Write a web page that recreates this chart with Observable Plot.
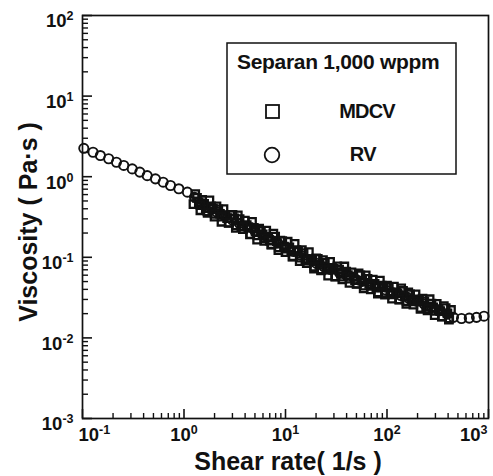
<!DOCTYPE html>
<html><head><meta charset="utf-8">
<script src="https://cdn.jsdelivr.net/npm/d3@7"></script>
<script src="https://cdn.jsdelivr.net/npm/@observablehq/plot@0.6"></script>
<style>body{margin:0;background:#fff} svg{display:block}</style>
</head><body><div id="chart"></div>
<script>
// RV (rotational viscometer), circles
const rvShear = [0.103, 0.127, 0.150, 0.181, 0.216, 0.255, 0.309, 0.367, 0.434, 0.523, 0.623, 0.736, 0.889, 1.08, 1.27,
  1.5, 1.8, 2.1, 2.5, 3, 3.5, 4.2, 5, 6, 7, 8.4, 10, 12, 14, 17, 20, 24, 28, 34, 40, 48, 57, 68, 81, 97, 115, 137, 164, 195, 232, 277, 330, 393,
  452, 542, 646, 762, 903];
const rvVisc = [2.25, 2.01, 1.83, 1.67, 1.51, 1.38, 1.25, 1.14, 1.03, 0.94, 0.855, 0.778, 0.708, 0.643, 0.557,
  0.450, 0.401, 0.364, 0.326, 0.290, 0.264, 0.235, 0.210, 0.187, 0.169, 0.150, 0.133, 0.118, 0.107, 0.094, 0.0845, 0.0760, 0.0706, 0.0644, 0.0596, 0.0546, 0.0503, 0.0462, 0.0428, 0.0394, 0.0364, 0.0336, 0.0310, 0.0286, 0.0263, 0.0239, 0.0217, 0.0197,
  0.0180, 0.0174, 0.0176, 0.0180, 0.0186];

// MDCV, squares (five runs)
const mdcvShearA = [1.29,1.51,1.78,2.09,2.45,2.88,3.39,3.98,4.68,5.50,6.46,7.59,8.91,10.5,12.3,14.5,17.0,20.0,23.4,27.5,32.4,38.0,44.7,52.5,61.7,72.4,85.1,100,117,138,162,191,224,263,309,363,427];
const mdcvViscA = [0.610,0.514,0.509,0.429,0.396,0.334,0.331,0.286,0.276,0.227,0.214,0.197,0.161,0.156,0.147,0.123,0.116,0.0973,0.0925,0.0877,0.0774,0.0769,0.0649,0.0630,0.0596,0.0528,0.0514,0.0446,0.0434,0.0413,0.0366,0.0348,0.0308,0.0302,0.0264,0.0248,0.0222];
const mdcvShearB = [1.40,1.64,1.93,2.26,2.66,3.13,3.67,4.32,5.07,5.96,7.00,8.22,9.66,11.4,13.3,15.7,18.4,21.6,25.4,29.9,35.1,41.2,48.4,56.9,66.8,78.5,92.3,108,127,150,176,207,243,285,335,394];
const mdcvViscB = [0.482,0.406,0.403,0.347,0.306,0.303,0.244,0.237,0.208,0.192,0.161,0.159,0.136,0.120,0.118,0.0948,0.0914,0.0807,0.0708,0.0718,0.0621,0.0601,0.0520,0.0515,0.0467,0.0424,0.0422,0.0357,0.0356,0.0324,0.0294,0.0292,0.0245,0.0240,0.0215,0.0202];
const mdcvShearC = [1.45,1.70,2.00,2.34,2.75,3.24,3.80,4.47,5.25,6.17,7.24,8.51,10.0,11.7,13.8,16.2,19.1,22.4,26.3,30.9,36.3,42.7,50.1,58.9,69.2,81.3,95.5,112,132,155,182,214,251,295,347,407];
const mdcvViscC = [0.383,0.371,0.320,0.276,0.267,0.231,0.223,0.192,0.166,0.160,0.144,0.123,0.116,0.102,0.0897,0.0845,0.0726,0.0689,0.0593,0.0574,0.0532,0.0481,0.0467,0.0412,0.0400,0.0355,0.0345,0.0306,0.0299,0.0265,0.0258,0.0229,0.0219,0.0191,0.0184,0.0169];
const mdcvShearD = [1.343,1.578,1.854,2.178,2.559,3.006,3.532,4.150,4.875,5.728,6.730,7.907,9.290,10.91,12.82,15.07,17.70,20.80,24.43,28.71,33.73,39.63,46.56,54.70,64.27,75.51,88.72,104.2,122.5,143.9,169.0,198.6,233.3,274.2,322.1,378.4];
const mdcvViscD = [0.548,0.461,0.427,0.394,0.333,0.337,0.297,0.251,0.232,0.213,0.179,0.181,0.159,0.133,0.123,0.113,0.0948,0.0957,0.0855,0.0740,0.0702,0.0664,0.0574,0.0596,0.0540,0.0467,0.0445,0.0423,0.0366,0.0382,0.0347,0.0301,0.0284,0.0266,0.0228,0.0234];
const mdcvShearE = [1.239,1.455,1.710,2.009,2.360,2.773,3.258,3.828,4.498,5.284,6.209,7.295,8.570,10.07,11.83,13.90,16.33,19.19,22.54,26.49,31.12,36.56,42.95,50.47,59.29,69.66,81.85,96.16,113.0,132.7,156.0,183.2,215.3,252.9,297.2,349.1,410.2];
const mdcvViscE = [0.457,0.443,0.356,0.345,0.319,0.269,0.249,0.240,0.194,0.187,0.172,0.145,0.133,0.128,0.103,0.0991,0.0912,0.0766,0.0706,0.0702,0.0578,0.0574,0.0543,0.0470,0.0446,0.0442,0.0366,0.0365,0.0347,0.0301,0.0286,0.0284,0.0236,0.0231,0.0217,0.0185,0.0174];

// axes
const xMajor = [0.1, 1, 10, 100, 1000];
const xTickLabels = ["10|-1", "10|0", "10|1", "10|2", "10|3"];
const yMajor = [0.001, 0.01, 0.1, 1, 10, 100];
const yTickLabels = ["10|-3", "10|-2", "10|-1", "10|0", "10|1", "10|2"];
const minorMult = [2, 3, 4, 5, 6, 7, 8, 9];
const xMinor = xMajor.slice(0, -1).flatMap(d => minorMult.map(m => d * m));
const yMinor = yMajor.slice(0, -1).flatMap(d => minorMult.map(m => d * m));

const xTitle = "Shear rate( 1/s )";
const yTitle = "Viscosity ( Pa·s )";
const legendTitle = "Separan 1,000 wppm";
const seriesNames = ["MDCV", "RV"];

const rv = rvShear.map((x, i) => ({x, y: rvVisc[i]}));
const mk = (xs, ys) => xs.map((x, i) => ({x, y: ys[i]}));
const mdcv = [...mk(mdcvShearA, mdcvViscA), ...mk(mdcvShearB, mdcvViscB), ...mk(mdcvShearC, mdcvViscC),
  ...mk(mdcvShearD, mdcvViscD), ...mk(mdcvShearE, mdcvViscE)];

const W = 493, H = 476, ML = 82, MR = 5, MT = 15, MB = 58;
const PW = W - ML - MR, PH = H - MT - MB;
const font = "'Liberation Sans', Arial, sans-serif";
const ink = "#111";

const chart = Plot.plot({
  width: W, height: H,
  marginLeft: ML, marginRight: MR, marginTop: MT, marginBottom: MB,
  style: {fontFamily: font, background: "#fff", color: ink},
  x: {type: "log", domain: [0.1, 1000], axis: null},
  y: {type: "log", domain: [0.001, 100], axis: null},
  marks: [
    Plot.dot(rv, {x: "x", y: "y", r: 4.6, stroke: ink, strokeWidth: 1.9, fill: "none"}),
    Plot.dot(mdcv, {x: "x", y: "y", symbol: "square", r: 4.2, stroke: ink, strokeWidth: 2.3, fill: "none"}),
    Plot.frame({stroke: ink, strokeWidth: 1.7}),
    Plot.tickY(yMajor, {y: d => d, insetRight: PW - 10, stroke: ink, strokeWidth: 1.6}),
    Plot.tickY(yMinor, {y: d => d, insetRight: PW - 6, stroke: ink, strokeWidth: 1.4}),
    Plot.tickX(xMajor, {x: d => d, insetTop: PH - 9, stroke: ink, strokeWidth: 1.6}),
    Plot.tickX(xMinor, {x: d => d, insetTop: PH - 5, stroke: ink, strokeWidth: 1.4}),
    Plot.text(yMajor, {y: d => d, text: (d, i) => yTickLabels[i], frameAnchor: "left", textAnchor: "end",
      dx: -9, dy: 6, fontSize: 18.5, fontWeight: "bold", fill: ink}),
    Plot.text(xMajor.slice(0, 1), {x: d => d, text: (d, i) => xTickLabels[i], frameAnchor: "bottom", lineAnchor: "top",
      textAnchor: "start", dx: -4, dy: 9, fontSize: 18.5, fontWeight: "bold", fill: ink}),
    Plot.text(xMajor.slice(1, -1), {x: d => d, text: (d, i) => xTickLabels[i + 1], frameAnchor: "bottom", lineAnchor: "top",
      textAnchor: "middle", dx: 0, dy: 9, fontSize: 18.5, fontWeight: "bold", fill: ink}),
    Plot.text(xMajor.slice(-1), {x: d => d, text: (d, i) => xTickLabels[xTickLabels.length - 1], frameAnchor: "bottom", lineAnchor: "top",
      textAnchor: "end", dx: -1, dy: 9, fontSize: 18.5, fontWeight: "bold", fill: ink})
  ]
});

const svg = d3.select(chart);
// superscripts
svg.selectAll("text").filter(function() { return this.textContent.includes("|"); }).each(function() {
  const [base, exp] = this.textContent.split("|");
  this.textContent = "";
  const t = d3.select(this);
  t.append("tspan").text(base);
  t.append("tspan").attr("dy", -7).attr("font-size", 12.5).text(exp);
});

// axis titles
svg.append("text").attr("transform", "translate(37,222) rotate(-90)").attr("text-anchor", "middle")
  .attr("font-family", font).attr("font-weight", "bold").attr("font-size", 25).attr("fill", ink).text(yTitle);
svg.append("text").attr("x", 288).attr("y", 470).attr("text-anchor", "middle")
  .attr("font-family", font).attr("font-weight", "bold").attr("font-size", 25).attr("fill", ink).text(xTitle);

// legend
const lg = svg.append("g").attr("font-family", font).attr("fill", ink);
lg.append("rect").attr("x", 227).attr("y", 43).attr("width", 229).attr("height", 131)
  .attr("fill", "#fff").attr("stroke", ink).attr("stroke-width", 1.5);
lg.append("text").attr("x", 237).attr("y", 69).attr("text-anchor", "start").attr("font-size", 21)
  .attr("font-weight", "bold").attr("letter-spacing", -0.3).text(legendTitle);
lg.append("rect").attr("x", 266).attr("y", 105).attr("width", 13).attr("height", 13)
  .attr("fill", "none").attr("stroke", ink).attr("stroke-width", 1.8);
lg.append("text").attr("x", 367).attr("y", 118).attr("text-anchor", "middle").attr("font-size", 20)
  .attr("font-weight", "bold").attr("letter-spacing", -0.8).text(seriesNames[0]);
lg.append("circle").attr("cx", 272).attr("cy", 155).attr("r", 7.3)
  .attr("fill", "none").attr("stroke", ink).attr("stroke-width", 1.8);
lg.append("text").attr("x", 363).attr("y", 161).attr("text-anchor", "middle").attr("font-size", 20)
  .attr("font-weight", "bold").attr("letter-spacing", -0.5).text(seriesNames[1]);

document.getElementById("chart").append(chart);
</script>
</body></html>
